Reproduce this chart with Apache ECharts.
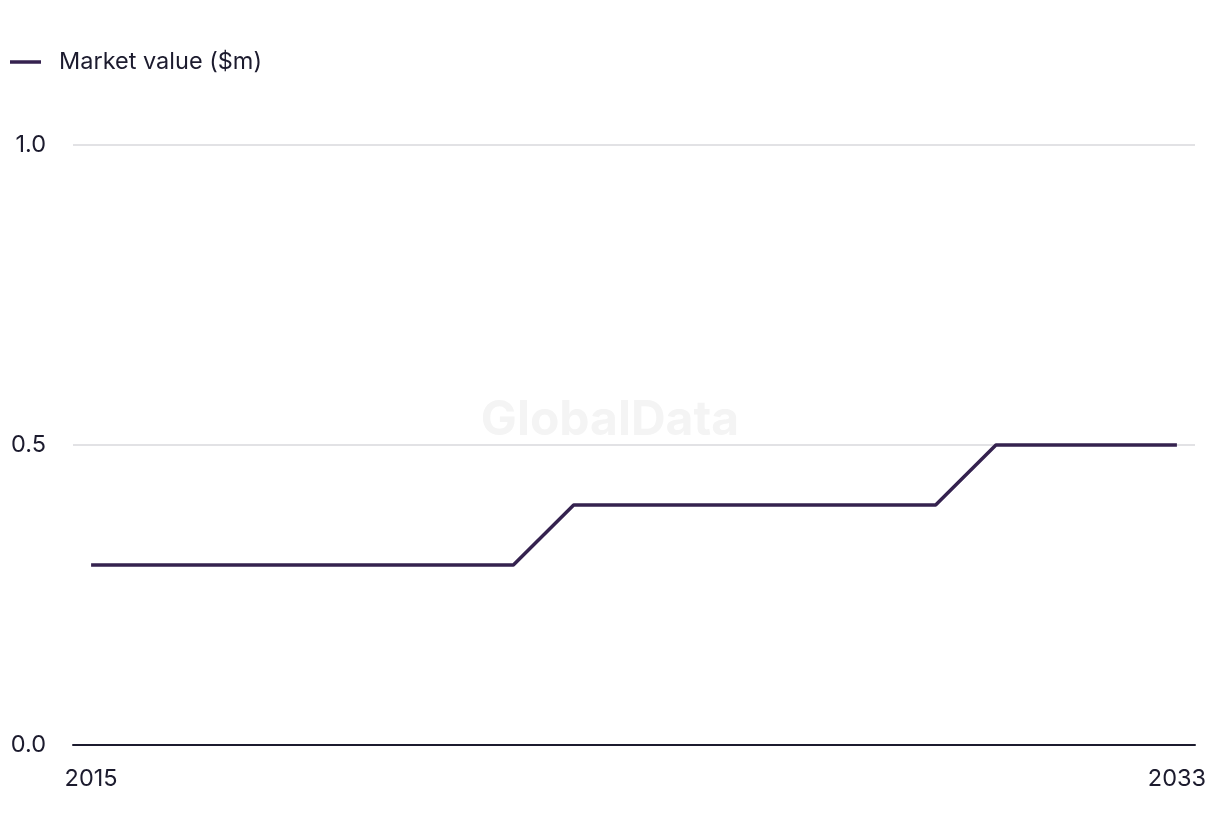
<!DOCTYPE html>
<html>
<head>
<meta charset="utf-8">
<script src="https://cdn.jsdelivr.net/npm/echarts@6/dist/echarts.min.js"></script>
<style>
html,body{margin:0;padding:0;background:#fff;}
#chart{width:1220px;height:836px;}
</style>
</head>
<body>
<div id="chart"></div>
<script>
const years = [2015,2016,2017,2018,2019,2020,2021,2022,2023,2024,2025,2026,2027,2028,2029,2030,2031,2032,2033];
const marketValue = [0.3,0.3,0.3,0.3,0.3,0.3,0.3,0.3,0.4,0.4,0.4,0.4,0.4,0.4,0.4,0.5,0.5,0.5,0.5];
const xTickLabels = [2015, 2033];
const yTickLabels = [0, 0.5, 1.0];
const seriesName = 'Market value ($m)';

const chart = echarts.init(document.getElementById('chart'));
const textColor = '#1c1b2e';
const lineColor = '#35224f';
chart.setOption({
  animation: false,
  textStyle: { fontFamily: 'Inter, "Noto Sans", sans-serif' },
  legend: {
    left: 10, top: 50, padding: 0,
    itemWidth: 31, itemHeight: 3.5, itemGap: 20,
    icon: 'rect',
    textStyle: { fontSize: 23.5, color: textColor, padding: [0,0,0,13] },
    data: [{ name: seriesName, itemStyle: { color: lineColor } }]
  },
  graphic: [{
    type: 'text', left: 'center', top: 397, z: 0,
    style: { text: 'GlobalData', fontSize: 48, fontWeight: 'bold', fill: '#f4f4f4', fontFamily: 'Inter, sans-serif' }
  }],
  grid: { left: 73, right: 25, top: 145, bottom: 91, containLabel: false },
  xAxis: {
    type: 'value',
    min: 2014.7, max: 2033.3,
    axisLine: { show: true, lineStyle: { color: '#1c1b2e', width: 2 } },
    axisTick: { show: false },
    splitLine: { show: false },
    axisLabel: {
      customValues: xTickLabels,
      formatter: v => String(v),
      fontSize: 23.5, color: textColor, margin: 22
    }
  },
  yAxis: {
    type: 'value',
    min: 0, max: 1, interval: 0.5,
    axisLine: { show: false },
    axisTick: { show: false },
    splitLine: { lineStyle: { color: '#d9d9dc', width: 1.5 } },
    axisLabel: {
      customValues: yTickLabels,
      formatter: v => v.toFixed(1),
      fontSize: 23.5, color: textColor, align: 'right', margin: 27,
      padding: [3, 0, 0, 0]
    }
  },
  series: [{
    name: seriesName,
    type: 'line',
    data: years.map((y, i) => [y, marketValue[i]]),
    showSymbol: false,
    symbol: 'none',
    lineStyle: { color: lineColor, width: 3.5 },
    itemStyle: { color: lineColor },
    z: 3
  }]
});
</script>
</body>
</html>
